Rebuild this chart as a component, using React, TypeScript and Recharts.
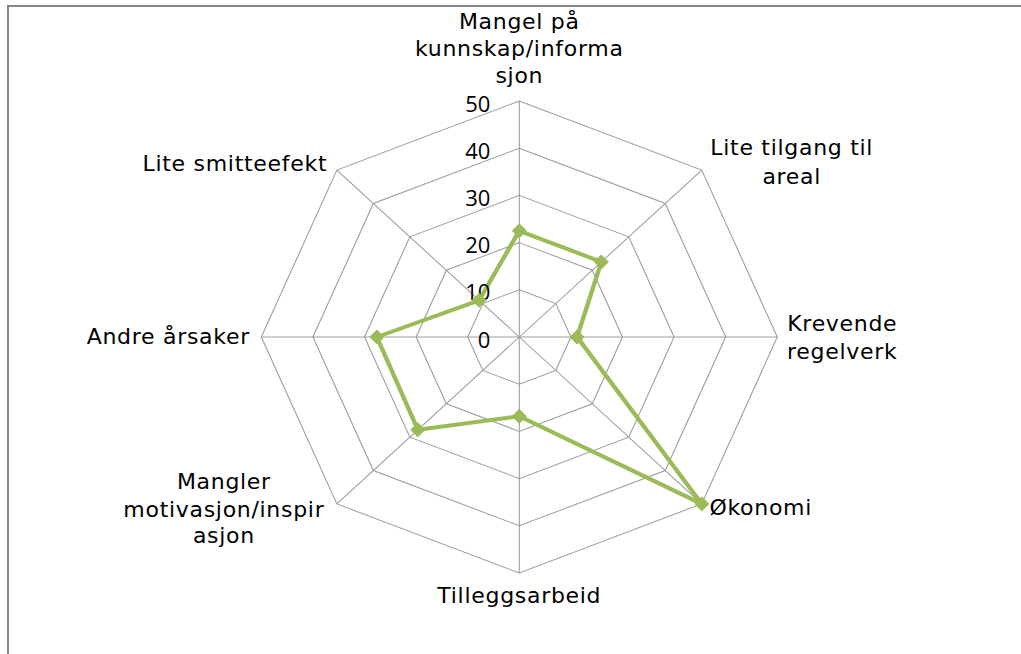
import { PolarAngleAxis, PolarGrid, PolarRadiusAxis, Radar, RadarChart } from "recharts"

const categories = [
    "Mangel på kunnskap/informasjon",
    "Lite tilgang til areal",
    "Krevende regelverk",
    "Økonomi",
    "Tilleggsarbeid",
    "Mangler motivasjon/inspirasjon",
    "Andre årsaker",
    "Lite smitteefekt",
]

// wrapped the way the original chart wrapped them
const categoryLines = [
    ["Mangel på", "kunnskap/informa", "sjon"],
    ["Lite tilgang til", "areal"],
    ["Krevende", "regelverk"],
    ["Økonomi"],
    ["Tilleggsarbeid"],
    ["Mangler", "motivasjon/inspir", "asjon"],
    ["Andre årsaker"],
    ["Lite smitteefekt"],
]

const values = [22.5, 22.5, 11.2, 50, 16.8, 27.8, 27.6, 11]

const radiusDomain = [0, 50]
const radiusTickCount = 6

const data = categories.map((name, i) => ({ name, value: values[i] }))

// the original picture is stretched sideways a bit
const SX = 258 / 236
const W = Math.round(1021 / SX)
const H = 654
const CX = 519.3 / SX
const CY = 337
const R = 236
const LABEL_FONT = "'DejaVu Sans', sans-serif"
const TICK_FONT = "'Open Sans', sans-serif"

// label offsets from each outer vertex, in screen pixels
const labelPlacement = [
    { dx: 0, lines: [-80, -53, -26] },
    { dx: 90, lines: [-22.5, 6] },
    { dx: 65, lines: [-13.5, 14.5] },
    { dx: 59, lines: [4] },
    { dx: 0, lines: [22] },
    { dx: -113, lines: [-22, 6, 32] },
    { dx: -93, lines: [-1] },
    { dx: -102, lines: [-6.5] },
]

function AngleTick(props: any) {
    const { payload } = props
    const i = categories.indexOf(payload.value)
    if (i < 0) return null
    const cx = props.cx ?? CX
    const cy = props.cy ?? CY
    const r = props.radius ?? R
    const rad = (payload.coordinate * Math.PI) / 180
    const vx = cx + r * Math.cos(rad)
    const vy = cy - r * Math.sin(rad)
    const place = labelPlacement[i]
    return (
        <g transform={`translate(${vx},${vy}) scale(${1 / SX},1)`}>
            {categoryLines[i].map((line, j) => (
                <text
                    key={j}
                    x={place.dx}
                    y={place.lines[j]}
                    textAnchor="middle"
                    dominantBaseline="central"
                    fontFamily={LABEL_FONT}
                    fontSize={22}
                    letterSpacing={0.7}
                    fill="#000"
                >
                    {line}
                </text>
            ))}
        </g>
    )
}

function RadiusTick(props: any) {
    const { x, y, payload } = props
    return (
        <g transform={`translate(${x},${y}) scale(${1 / SX},1)`}>
            <text
                x={-29}
                y={1.5}
                textAnchor="end"
                dominantBaseline="central"
                fontFamily={TICK_FONT}
                fontSize={22}
                fill="#000"
            >
                {payload.value}
            </text>
        </g>
    )
}

function DiamondDot(props: any) {
    const { cx, cy } = props
    if (cx == null || cy == null) return null
    return (
        <path
            transform={`translate(${cx},${cy}) scale(${1 / SX},1)`}
            d="M0,-7 L7,0 L0,7 L-7,0 Z"
            fill="#9BBB59"
            stroke="#9BBB59"
            strokeWidth={1}
        />
    )
}

export default function App() {
    return (
        <div
            style={{
                position: "absolute",
                left: 0,
                top: 0,
                width: 1021,
                height: 654,
                overflow: "hidden",
                background: "#fff",
            }}
        >
            <div
                style={{
                    position: "absolute",
                    left: 7,
                    top: 5,
                    width: 1100,
                    height: 700,
                    borderTop: "2px solid #888",
                    borderLeft: "2px solid #888",
                }}
            />
            <div
                style={{
                    position: "absolute",
                    left: 0,
                    top: 0,
                    width: W,
                    height: H,
                    transform: `scaleX(${SX})`,
                    transformOrigin: "0 0",
                }}
            >
                <RadarChart
                    width={W}
                    height={H}
                    cx={CX}
                    cy={CY}
                    outerRadius={R}
                    margin={{ top: 0, right: 0, bottom: 0, left: 0 }}
                    data={data}
                >
                    <PolarGrid gridType="polygon" stroke="#9d9d9d" strokeWidth={1} />
                    <PolarAngleAxis dataKey="name" tick={<AngleTick />} tickLine={false} axisLine={false} />
                    <PolarRadiusAxis
                        angle={90}
                        type="number"
                        domain={radiusDomain}
                        tickCount={radiusTickCount}
                        axisLine={false}
                        tick={<RadiusTick />}
                    />
                    <Radar
                        dataKey="value"
                        stroke="#9BBB59"
                        strokeWidth={4}
                        strokeLinejoin="round"
                        fill="none"
                        fillOpacity={0}
                        dot={<DiamondDot />}
                        isAnimationActive={false}
                    />
                </RadarChart>
            </div>
        </div>
    )
}
